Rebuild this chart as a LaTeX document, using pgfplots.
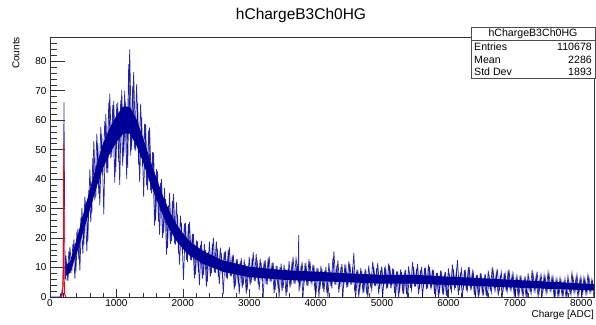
\documentclass[border=0pt]{standalone}
\usepackage{fontspec}
\setmainfont{Liberation Sans}
\usepackage{pgfplots}
\pgfplotsset{compat=1.18}
\definecolor{rootblue}{RGB}{0,0,150}
\begin{document}
\begin{tikzpicture}
\begin{axis}[
  scale only axis, width=544bp, height=260bp,
  xmin=0, xmax=8192, ymin=0, ymax=88.2,
  axis line style={line width=0.7bp, black!80},
  tick align=inside, xtick pos=lower, ytick pos=left,
  xtick={0,1000,...,8000}, ytick={0,10,...,80},
  minor xtick={0,200,...,8200}, minor ytick={0,2,...,88},
  xtick style={/pgfplots/major tick length=8bp,/pgfplots/minor tick length=4bp, line width=0.5bp, black!80},
  ytick style={/pgfplots/major tick length=15bp,/pgfplots/minor tick length=7.5bp, line width=0.5bp, black!80},
  /pgf/number format/assume math mode=true,
  /pgf/number format/1000 sep={},
  tick label style={font=\fontsize{10bp}{12bp}\selectfont},
  xticklabel style={yshift=1bp},
  clip=true,
]
% dense core of the histogram band
\addplot[fill=rootblue, draw=none] coordinates {
(240,10.8) (300,11.9) (400,19.5) (500,28) (600,36.4) (700,44.8) (800,52.2) (900,57.4) (1000,61.5) (1100,64.6) (1200,64.6) (1300,60.5) (1400,54.2) (1500,46.9) (1600,40.6) (1700,34.3) (1800,29.1) (1900,24.8) (2000,21.6) (2100,18.9) (2200,17.3) (2300,15.7) (2400,14.6) (2500,13.5) (2600,12.4) (2800,11.35) (3000,10.25) (3500,9.15) (4000,8.6) (4500,8) (5000,7.5) (5500,7.5) (6000,6.9) (6500,6.35) (7000,5.8) (7500,5.2) (8000,4.6) (8192,4.4)
(8192,2.2) (8000,2.4) (7500,2.8) (7000,3.2) (6500,3.65) (6000,4.1) (5500,4.5) (5000,4.5) (4500,5) (4000,5.4) (3500,5.85) (3000,6.75) (2800,7.65) (2600,8.6) (2500,9.5) (2400,10.4) (2300,11.3) (2200,12.7) (2100,14.1) (2000,16.4) (1900,19.2) (1800,22.9) (1700,27.7) (1600,33.4) (1500,39.1) (1400,45.8) (1300,51.5) (1200,55.4) (1100,55.4) (1000,52.5) (900,48.6) (800,43.8) (700,37.2) (600,29.6) (500,22) (400,14.5) (300,8.1) (240,7.2)
};
% fluctuations of the histogram (bins sampled at 30 ADC)
\addplot[rootblue, line width=0.7bp, opacity=0.85] table {
x y
0 0
150 0
160 1
170 0
180 2
190 1
195 4
200 15
205 40
210 66
215 50
220 30
225 14
232 6
240 14
270 5.5
300 17
330 8.9
360 19.5
390 8.7
420 23.2
450 9
480 30.2
510 17.8
540 32.7
570 19
600 43.3
630 28.3
660 52.9
690 33.7
720 52.3
750 31.1
780 55.3
810 28
840 62
870 42.1
900 69
930 47.5
960 66.5
990 42.4
1020 66
1050 38
1080 70.2
1110 47.7
1140 66.2
1170 43.8
1200 84
1230 49.8
1260 76.3
1290 49.5
1320 66
1350 39
1380 61
1410 34
1440 58.7
1470 36.3
1500 57.5
1530 35.2
1560 49
1590 25.9
1620 42.6
1650 21.2
1680 40
1710 21.7
1740 33.3
1770 16.6
1800 35.2
1830 19
1860 35
1890 17.8
1920 27.9
1950 11
1980 25.2
2010 5.8
2040 25.1
2070 11.9
2100 25.5
2130 12.4
2160 21.4
2190 7.6
2220 18.9
2250 4
2280 19
2310 7.5
2340 15.9
2370 5.2
2400 18.8
2430 8
2460 20.1
2490 8.2
2520 16.4
2550 4.4
2580 15
2610 1
2640 15.7
2670 6
2700 17
2730 7
2760 14.4
2790 3.6
2820 12.8
2850 1
2880 13.2
2910 4.1
2940 11.1
2970 2.4
3000 13.7
3030 4.9
3060 15.2
3090 5.3
3120 12.4
3150 2.4
3180 11.6
3210 0
3240 12.6
3270 4.2
3300 13.8
3330 5.2
3360 11.7
3390 2.4
3420 10.5
3450 0
3480 11.3
3510 3.1
3540 9.6
3570 1.6
3600 12.2
3630 4
3660 13.6
3690 4.5
3720 11.2
3735 5
3745 21
3750 1.8
3780 10.6
3810 0
3840 11.5
3870 3.6
3900 12.8
3930 4.6
3960 11
3990 2
4020 9.9
4050 0
4080 10.6
4110 2.7
4140 9
4170 1.4
4200 11.5
4230 3.7
4260 13
4290 4.2
4320 10.6
4350 1.5
4380 10
4410 0
4440 11
4470 3.2
4500 12.1
4530 4.2
4560 10.3
4590 1.6
4620 9.2
4650 0
4680 9.9
4710 2.3
4740 8.3
4770 1
4800 10.7
4830 3.2
4860 12.1
4890 3.6
4920 9.8
4950 1.1
4980 9.2
5010 0
5040 10.2
5070 2.8
5100 11.4
5130 3.8
5160 9.7
5190 1.3
5220 8.7
5250 0
5280 9.4
5310 2.1
5340 8
5370 0.9
5400 10.4
5430 3.1
5460 11.9
5490 3.6
5520 9.6
5550 1
5580 9
5610 0
5640 9.9
5670 2.7
5700 11
5730 3.6
5760 9.3
5790 1.1
5820 8.2
5850 0
5880 8.9
5910 1.7
5940 7.4
5970 0.5
6000 9.7
6030 2.6
6060 11
6090 3.1
6120 8.8
6150 0.7
6180 8.3
6210 0
6240 9.1
6270 2.2
6300 10.1
6330 3.1
6360 8.5
6390 0.8
6420 7.5
6450 0
6480 8.1
6510 1.4
6540 6.7
6570 0.3
6600 8.9
6630 2.2
6660 10.1
6690 2.6
6720 8
6750 0.4
6780 7.5
6810 0
6840 8.2
6870 1.8
6900 9.2
6930 2.6
6960 7.7
6990 0.5
7020 6.8
7050 0
7080 7.3
7110 1
7140 6
7170 0
7200 8
7230 1.7
7260 9.1
7290 2.1
7320 7.1
7350 0
7380 6.7
7410 0
7440 7.4
7470 1.4
7500 8.4
7530 2.2
7560 6.9
7590 0.2
7620 6
7650 0
7680 6.5
7710 0.6
7740 5.2
7770 0
7800 7.1
7830 1.3
7860 8.2
7890 1.7
7920 6.3
7950 0
7980 5.9
8010 0
8040 6.5
8070 1
8100 7.4
8130 1.7
8160 6
8190 0
};
% fluctuations of the histogram (bins in between)
\addplot[rootblue, line width=0.7bp, opacity=0.85] table {
x y
255 5.6
285 15.6
315 8
345 18
375 6.2
405 22.1
435 12.8
465 26.9
495 14.7
525 34
555 15.5
585 36.3
615 25.5
645 47.1
675 32.8
705 55.4
735 34.9
765 57.6
795 41.4
825 59.7
855 42.2
885 65.9
915 47
945 65.2
975 38.8
1005 65.6
1035 45.8
1065 66.7
1095 44.4
1125 70
1155 40
1185 79
1215 48
1245 71.5
1275 50
1305 72.2
1335 44.7
1365 65.5
1395 44
1425 58.7
1455 37.8
1485 56.5
1515 36.2
1545 49.1
1575 24.2
1605 43.4
1635 25.6
1665 38.7
1695 20.1
1725 37
1755 14.4
1785 31
1815 18
1845 32.6
1875 18.2
1905 32.1
1935 14.8
1965 27.6
1995 15.1
2025 24.9
2055 12.6
2085 24.7
2115 12.7
2145 21.4
2175 6.3
2205 19.2
2235 8.4
2265 17.7
2295 6.2
2325 17.9
2355 3.5
2385 15.4
2415 7
2445 18
2475 8.3
2505 18.9
2535 6.8
2565 16.7
2595 7.6
2625 15.2
2655 6.4
2685 16.1
2715 7
2745 14.1
2775 2.5
2805 12.8
2835 4.3
2865 12.1
2895 3
2925 12.7
2955 1
2985 10.8
3015 4.1
3045 13.3
3075 5.4
3105 14.6
3135 4.3
3165 13
3195 5.5
3225 12.1
3255 4.4
3285 13.1
3315 5.2
3345 11.6
3375 1.3
3405 10.6
3435 3.1
3465 10.2
3495 2
3525 11
3555 0.3
3585 9.5
3615 3.2
3645 11.9
3675 4.5
3705 13.1
3765 3.6
3795 11.9
3825 4.7
3855 11
3885 3.8
3915 12
3945 4.6
3975 10.7
4005 0.9
4035 9.8
4065 2.7
4095 9.5
4125 1.6
4155 10.3
4185 0
4215 8.9
4245 2.9
4275 15.5
4305 4.1
4335 12.4
4365 3.3
4395 11.2
4425 4.3
4455 10.4
4485 3.4
4515 11.3
4545 4.2
4575 15
4605 0.6
4635 9.2
4665 2.3
4695 8.8
4725 1.3
4755 9.5
4785 0
4815 8.2
4845 2.4
4875 10.3
4905 3.6
4935 11.5
4965 2.8
4995 10.4
5025 3.8
5055 9.7
5085 3.1
5115 10.7
5145 3.8
5175 9.4
5205 0.4
5235 8.7
5265 2.1
5295 8.5
5325 1.1
5355 9.2
5385 0
5415 8
5445 2.3
5475 10.2
5505 3.5
5535 11.2
5565 2.7
5595 10.2
5625 3.6
5655 9.4
5685 2.9
5715 10.2
5745 3.5
5775 9
5805 0.2
5835 8.2
5865 1.8
5895 7.9
5925 0.8
5955 8.5
5985 0
6015 7.3
6045 1.9
6075 9.4
6105 3
6135 12.5
6165 2.3
6195 9.4
6225 3.1
6255 8.6
6285 2.4
6315 9.4
6345 3.1
6375 8.2
6405 0
6435 7.5
6465 1.4
6495 7.2
6525 0.5
6555 7.8
6585 0
6615 6.6
6645 1.5
6675 8.5
6705 2.6
6735 9.5
6765 1.9
6795 8.5
6825 2.7
6855 7.8
6885 2
6915 8.5
6945 2.6
6975 7.5
7005 0
7035 6.7
7065 1
7095 6.4
7125 0.2
7155 7
7185 0
7215 5.8
7245 1.1
7275 7.6
7305 2.1
7335 8.6
7365 1.4
7395 7.6
7425 2.2
7455 7
7485 1.6
7515 7.7
7545 2.1
7575 6.7
7605 0
7635 6
7665 0.7
7695 5.7
7725 0
7755 6.2
7785 0
7815 5.1
7845 0.8
7875 6.8
7905 1.6
7935 7.6
7965 1.1
7995 6.8
8025 1.7
8055 6.2
8085 1.2
8115 6.8
8145 1.7
8175 5.8
};
% pedestal fit (red)
\addplot[red, line width=0.9bp] coordinates {
(150,0) (175,0.3) (190,2) (200,8) (205,30) (207,52) (209,30) (212,8) (220,1) (240,0)
};
\end{axis}
\begin{scope}[shift={(current axis.south west)}, x=1bp, y=1bp]
  \node[font=\fontsize{15.5bp}{18bp}\selectfont] at (251,282) {hChargeB3Ch0HG};
  \node[rotate=90, anchor=east, font=\fontsize{10bp}{12bp}\selectfont, inner sep=0pt] at (-34,260) {Counts};
  \node[anchor=east, font=\fontsize{10bp}{12bp}\selectfont, inner sep=0pt] at (544,-18) {Charge [ADC]};
  \draw[fill=white, draw=black!70, line width=0.6bp] (421,218.5) rectangle (545,270);
  \draw[black!70, line width=0.6bp] (421,256.3) -- (545,256.3);
  \node[font=\fontsize{10.6bp}{12bp}\selectfont, inner sep=0pt] at (483,263.2) {hChargeB3Ch0HG};
  \node[anchor=west, font=\fontsize{10.6bp}{12bp}\selectfont, inner sep=0pt] at (424,250.3) {Entries};
  \node[anchor=east, font=\fontsize{10.6bp}{12bp}\selectfont, inner sep=0pt] at (542,250.3) {110678};
  \node[anchor=west, font=\fontsize{10.6bp}{12bp}\selectfont, inner sep=0pt] at (424,237.3) {Mean};
  \node[anchor=east, font=\fontsize{10.6bp}{12bp}\selectfont, inner sep=0pt] at (542,237.3) {2286};
  \node[anchor=west, font=\fontsize{10.6bp}{12bp}\selectfont, inner sep=0pt] at (424,225.3) {Std Dev};
  \node[anchor=east, font=\fontsize{10.6bp}{12bp}\selectfont, inner sep=0pt] at (542,225.3) {1893};
\end{scope}
\pgfresetboundingbox
\path[use as bounding box] ([shift={(-50bp,-28bp)}]current axis.south west) rectangle ([shift={(546bp,297bp)}]current axis.south west);
\end{tikzpicture}
\end{document}
